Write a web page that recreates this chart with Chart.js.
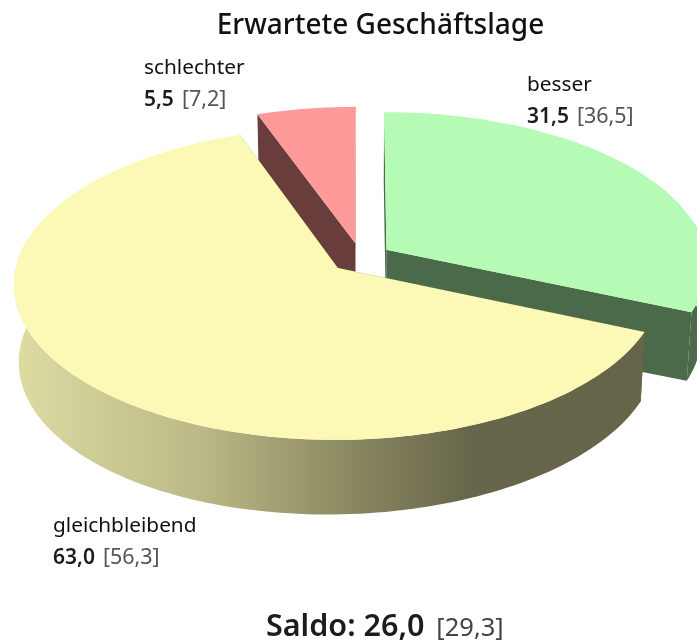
<!DOCTYPE html>
<html><head><meta charset="utf-8">
<style>html,body{margin:0;padding:0;background:#fff}canvas{display:block}</style>
<script src="https://cdn.jsdelivr.net/npm/chart.js@4"></script>
</head><body>
<div style="width:697px;height:643px"><canvas id="c" width="697" height="643"></canvas></div>
<script>
const chartTitle = 'Erwartete Geschäftslage';
const categories = ['besser', 'gleichbleibend', 'schlechter'];
const currentValues = [31.5, 63.0, 5.5];
const previousValues = [36.5, 56.3, 7.2];
const saldoCurrent = 26.0;
const saldoPrevious = 29.3;
const topColors = ['#b5fbb5', '#fbf9b5', '#ff9a9a'];
const wallColors = ['#4a6a4a', null, '#6a3d3d'];

const FONT = '"Noto Sans"';
const fmt = v => v.toFixed(1).replace('.', ',');
const labelPos = [[527, 91], [53, 532], [144, 74]];
const V = {cx:360.6, cy:257.8, R:320, B:152.7, k:0.0988, explode:0.097, shrink:0.986};

function proj(a, r, mid) {
  const X = Math.cos(a) * r + Math.cos(mid) * V.explode;
  const Y = Math.sin(a) * r + Math.sin(mid) * V.explode;
  const s = 1 / (1 - V.k * Y);
  const x = V.cx + V.R * X * s, y = V.cy + V.B * Y * s;
  const h = 72.5 - 4.5 * X + 1.7 * Y;
  return {x, y, bx: V.cx + (x - V.cx) * V.shrink, by: y + h};
}
function wallFill(ctx, i) {
  if (wallColors[i]) return wallColors[i];
  const g = ctx.createLinearGradient(14, 0, 645, 0);
  g.addColorStop(0, '#dddca2');
  g.addColorStop(0.3, '#bab886');
  g.addColorStop(0.5, '#918f65');
  g.addColorStop(0.72, '#67664a');
  g.addColorStop(1, '#66654a');
  return g;
}
const pie3d = {
  id: 'pie3d',
  beforeDatasetDraw() { return false; },
  afterDatasetsDraw(chart) {
    const ctx = chart.ctx;
    const arcs = chart.getDatasetMeta(0).data.map((e, i) => ({e, i, mid:(e.startAngle + e.endAngle) / 2}));
    arcs.sort((p, q) => Math.sin(p.mid) - Math.sin(q.mid));
    ctx.save();
    ctx.beginPath(); ctx.rect(0, 0, chart.width, chart.height); ctx.clip();
    for (const {e, i, mid} of arcs) {
      const angles = [];
      const n = Math.max(4, Math.ceil((e.endAngle - e.startAngle) / 0.025));
      for (let j = 0; j <= n; j++) angles.push(e.startAngle + (e.endAngle - e.startAngle) * j / n);
      const pts = angles.map(a => proj(a, 1, mid));
      const front = pts.filter((p, j) => Math.sin(angles[j]) > -0.2);
      const apex = proj(0, 0, mid);
      ctx.fillStyle = wallFill(ctx, i);
      // cut walls
      for (const p of [pts[0], pts[n]]) {
        ctx.beginPath();
        ctx.moveTo(apex.x, apex.y); ctx.lineTo(p.x, p.y); ctx.lineTo(p.bx, p.by); ctx.lineTo(apex.bx, apex.by);
        ctx.closePath(); ctx.fill();
      }
      // outer wall (only the part facing the viewer)
      if (front.length > 1) {
        ctx.beginPath();
        front.forEach((p, j) => j ? ctx.lineTo(p.x, p.y) : ctx.moveTo(p.x, p.y));
        for (let j = front.length - 1; j >= 0; j--) ctx.lineTo(front[j].bx, front[j].by);
        ctx.closePath(); ctx.fill();
      }
      // top face
      ctx.fillStyle = e.options.backgroundColor;
      ctx.beginPath(); ctx.moveTo(apex.x, apex.y);
      pts.forEach(p => ctx.lineTo(p.x, p.y));
      ctx.closePath(); ctx.fill();
    }
    ctx.restore();
    // labels
    ctx.save();
    ctx.textBaseline = 'alphabetic'; ctx.textAlign = 'left';
    categories.forEach((name, i) => {
      const [x, y] = labelPos[i];
      ctx.font = '20.8px ' + FONT; ctx.fillStyle = '#111';
      ctx.fillText(name, x, y);
      ctx.font = '600 21px ' + FONT; ctx.fillStyle = '#1c1c1c';
      const t = fmt(currentValues[i]);
      ctx.fillText(t, x, y + 32);
      const w = ctx.measureText(t).width;
      ctx.font = '21.5px ' + FONT; ctx.fillStyle = '#555';
      ctx.fillText('[' + fmt(previousValues[i]) + ']', x + w + 8, y + 32);
    });
    ctx.font = '600 30.5px ' + FONT; ctx.fillStyle = '#1c1c1c';
    const st = 'Saldo: ' + fmt(saldoCurrent);
    ctx.fillText(st, 266, 636);
    const sw = ctx.measureText(st).width;
    ctx.font = '25.5px ' + FONT; ctx.fillStyle = '#444';
    ctx.fillText('[' + fmt(saldoPrevious) + ']', 266 + sw + 12, 636);
    ctx.restore();
  }
};
new Chart(document.getElementById('c'), {
  type: 'pie',
  plugins: [pie3d],
  data: {labels: categories, datasets: [{data: currentValues, backgroundColor: topColors, borderWidth: 0}]},
  options: {
    responsive: false, animation: false,
    layout: {padding: {left: 64}},
    plugins: {
      legend: {display: false}, tooltip: {enabled: false},
      title: {display: true, text: chartTitle, color: '#111', font: {family: 'Noto Sans', size: 28, weight: '500'}, padding: {top: 9, bottom: 0}}
    }
  }
});
</script>
</body></html>
